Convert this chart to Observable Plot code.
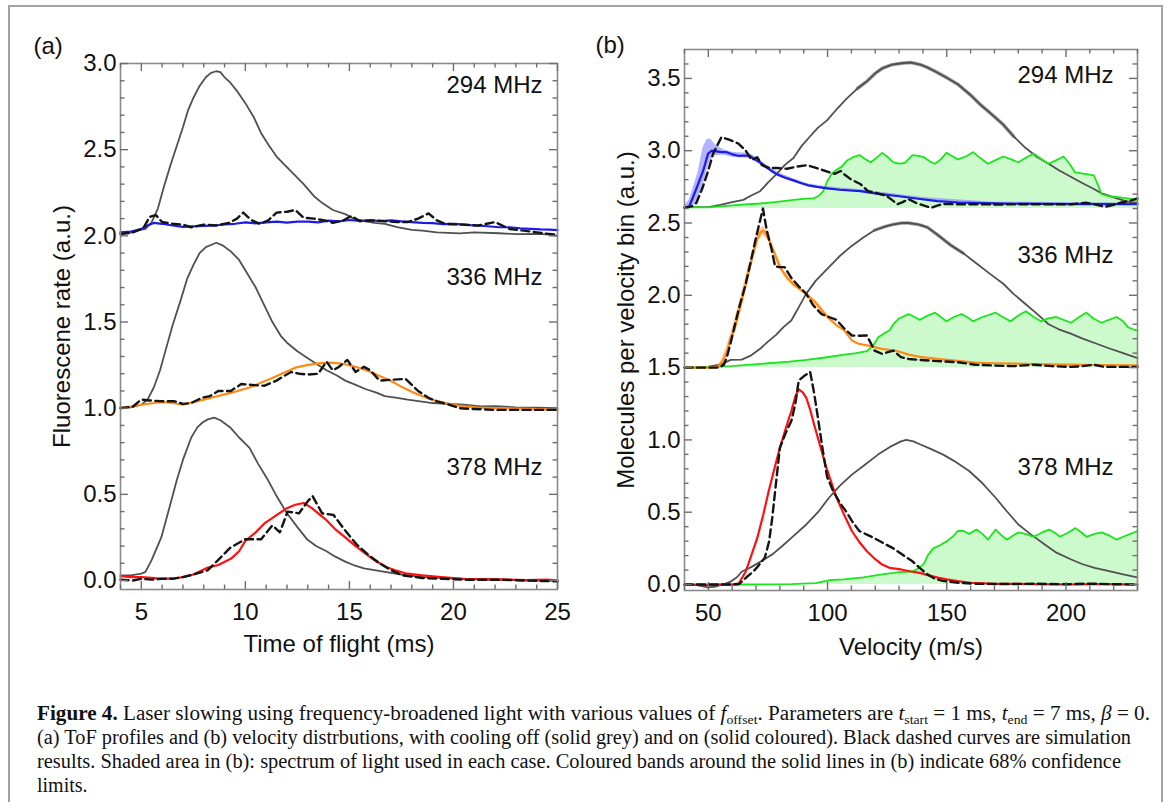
<!DOCTYPE html>
<html>
<head>
<meta charset="utf-8">
<script src="https://cdn.jsdelivr.net/npm/d3@7"></script>
<script src="https://cdn.jsdelivr.net/npm/@observablehq/plot@0.6"></script>
<style>
  html, body { margin: 0; padding: 0; background: #fff; }
  #fig { position: relative; width: 1171px; height: 802px; overflow: hidden; background: #fff; }
  #border { position: absolute; left: 8px; top: 5px; width: 1155px; height: 900px; border: 2px solid #a3a3a3; box-sizing: border-box; }
  .panel { position: absolute; top: 0; }
  #pa { left: 0; }
  #pb { left: 590px; }
  .cap { position: absolute; left: 37px; white-space: nowrap; font-family: "Liberation Serif", "Times New Roman", serif; font-size: 20px; color: #111; transform-origin: 0 50%; }
  .cap i { font-style: italic; }
  .cap sub { font-size: 13px; vertical-align: -4px; line-height: 0; }
</style>
</head>
<body>
<div id="fig">
  <div id="border"></div>
  <div id="pa" class="panel"></div>
  <div id="pb" class="panel"></div>
  <div class="cap" data-w="1113" style="top:702px"><b>Figure 4.</b> Laser slowing using frequency-broadened light with various values of <i>f</i><sub>offset</sub>. Parameters are <i>t</i><sub>start</sub>&nbsp;=&nbsp;1 ms, <i>t</i><sub>end</sub>&nbsp;=&nbsp;7 ms, <i>β</i>&nbsp;=&nbsp;0.</div>
  <div class="cap" data-w="1094" style="top:726px">(a) ToF profiles and (b) velocity distrbutions, with cooling off (solid grey) and on (solid coloured). Black dashed curves are simulation</div>
  <div class="cap" data-w="1084" style="top:750px">results. Shaded area in (b): spectrum of light used in each case. Coloured bands around the solid lines in (b) indicate 68% confidence</div>
  <div class="cap" style="top:774px">limits.</div>
</div>
<script>
// ---------------- Panel (a): ToF profiles ----------------
const aXMajor = [5, 10, 15, 20, 25];
const aXMinor = [4, 6, 7, 8, 9, 11, 12, 13, 14, 16, 17, 18, 19, 21, 22, 23, 24];
const aYMajor = [0, 0.5, 1, 1.5, 2, 2.5, 3];
const aYMinor = [0.1,0.2,0.3,0.4,0.6,0.7,0.8,0.9,1.1,1.2,1.3,1.4,1.6,1.7,1.8,1.9,2.1,2.2,2.3,2.4,2.6,2.7,2.8,2.9];
const aLabels = ["294 MHz", "336 MHz", "378 MHz"];

const tof294Off = [[4.0,2.02],[4.4,2.015],[4.8,2.03],[5.2,2.04],[5.5,2.08],[5.8,2.16],[6.1,2.29],[6.4,2.41],[6.7,2.52],[7.0,2.63],[7.25,2.73],[7.5,2.80],[7.8,2.87],[8.1,2.92],[8.35,2.946],[8.6,2.955],[8.8,2.95],[9.0,2.92],[9.27,2.89],[9.6,2.84],[10.0,2.77],[10.4,2.69],[10.74,2.60],[11.1,2.53],[11.5,2.46],[11.9,2.41],[12.4,2.35],[12.8,2.30],[13.3,2.23],[13.7,2.19],[14.2,2.15],[14.8,2.126],[15.2,2.10],[15.7,2.085],[16.2,2.075],[16.7,2.07],[17.3,2.05],[18.0,2.035],[18.5,2.03],[19.2,2.02],[20.3,2.014],[21.0,2.02],[22.2,2.015],[23.0,2.01],[24.0,2.012],[24.5,2.008],[25.0,2.0]];
const tof294On = [[4.0,2.02],[4.5,2.025],[5.0,2.04],[5.3,2.06],[5.6,2.075],[6.0,2.07],[6.5,2.06],[7.0,2.052],[7.5,2.055],[8.0,2.058],[8.5,2.06],[9.0,2.066],[9.5,2.07],[10.0,2.078],[10.5,2.072],[11.0,2.078],[11.5,2.082],[12.0,2.077],[12.5,2.083],[13.0,2.082],[13.5,2.078],[14.0,2.088],[14.5,2.084],[15.0,2.092],[15.5,2.087],[16.0,2.09],[16.5,2.086],[17.0,2.09],[17.5,2.084],[18.0,2.08],[18.5,2.075],[19.0,2.074],[19.5,2.068],[20.0,2.07],[20.4,2.066],[21.0,2.06],[21.5,2.057],[22.2,2.05],[22.7,2.05],[23.2,2.044],[23.7,2.04],[24.2,2.037],[24.6,2.036],[25.0,2.033]];
const tof294Sim = [[4.0,2.01],[4.6,2.02],[5.1,2.045],[5.4,2.11],[5.7,2.12],[6.0,2.08],[6.5,2.07],[7.0,2.065],[7.4,2.05],[8.0,2.065],[8.6,2.06],[9.2,2.075],[9.6,2.10],[9.9,2.135],[10.3,2.09],[10.7,2.07],[11.1,2.09],[11.5,2.135],[12.0,2.14],[12.4,2.15],[12.8,2.105],[13.3,2.10],[13.8,2.09],[14.2,2.075],[14.7,2.09],[15.1,2.115],[15.5,2.085],[16.0,2.09],[16.7,2.085],[17.3,2.08],[17.8,2.08],[18.3,2.10],[18.8,2.13],[19.2,2.09],[19.6,2.07],[20.4,2.065],[21.2,2.06],[22.0,2.08],[22.7,2.04],[23.4,2.03],[24.0,2.02],[25.0,2.005]];

const tof336Off = [[4.0,1.0],[4.5,1.005],[5.0,1.02],[5.3,1.05],[5.6,1.12],[5.9,1.22],[6.2,1.35],[6.5,1.48],[6.9,1.63],[7.2,1.75],[7.5,1.83],[7.8,1.90],[8.1,1.935],[8.4,1.95],[8.6,1.96],[8.9,1.945],[9.3,1.91],[9.7,1.86],[10.1,1.78],[10.5,1.70],[10.9,1.60],[11.3,1.50],[11.7,1.42],[12.0,1.38],[12.5,1.33],[13.0,1.29],[13.5,1.25],[13.9,1.22],[14.4,1.19],[14.8,1.16],[15.3,1.135],[15.8,1.11],[16.3,1.09],[16.7,1.07],[17.3,1.06],[17.8,1.05],[18.4,1.04],[19.0,1.03],[19.7,1.025],[20.5,1.02],[21.3,1.01],[22.0,1.012],[23.0,1.005],[24.0,1.003],[25.0,1.0]];
const tof336On = [[4.0,1.003],[4.5,1.01],[5.0,1.02],[5.6,1.03],[6.0,1.035],[6.5,1.03],[7.0,1.02],[7.5,1.035],[8.0,1.05],[8.5,1.065],[9.0,1.08],[9.5,1.095],[10.2,1.12],[10.8,1.15],[11.3,1.175],[11.85,1.206],[12.4,1.235],[12.95,1.25],[13.5,1.26],[14.05,1.264],[14.4,1.262],[14.8,1.255],[15.3,1.24],[15.9,1.216],[16.4,1.19],[17.0,1.158],[17.5,1.125],[18.1,1.09],[18.7,1.06],[19.4,1.036],[20.2,1.015],[21.2,1.003],[22.0,1.0],[23.0,0.998],[24.0,0.995],[25.0,0.99]];
const tof336Sim = [[4.0,1.0],[4.6,1.01],[5.0,1.05],[5.4,1.045],[6.0,1.04],[6.6,1.04],[7.0,1.025],[7.4,1.03],[7.9,1.06],[8.3,1.07],[8.7,1.10],[9.3,1.10],[9.8,1.14],[10.3,1.135],[10.9,1.13],[11.5,1.16],[11.9,1.19],[12.2,1.21],[12.6,1.20],[13.0,1.195],[13.5,1.20],[13.9,1.27],[14.2,1.22],[14.5,1.24],[14.9,1.28],[15.3,1.21],[15.7,1.24],[16.0,1.22],[16.45,1.16],[17.0,1.165],[17.7,1.17],[18.3,1.10],[18.8,1.06],[19.2,1.04],[19.8,1.02],[20.3,1.0],[21.0,0.995],[22.0,0.99],[23.0,0.99],[24.0,0.99],[25.0,0.99]];

const tof378Off = [[4.0,0.03],[4.5,0.03],[5.0,0.04],[5.2,0.05],[5.5,0.12],[5.96,0.25],[6.3,0.40],[6.7,0.58],[7.0,0.70],[7.4,0.83],[7.7,0.89],[7.94,0.917],[8.2,0.935],[8.5,0.945],[8.8,0.93],[9.26,0.89],[9.7,0.83],[10.2,0.77],[10.6,0.68],[11.1,0.58],[11.5,0.49],[12.0,0.39],[12.5,0.31],[12.96,0.24],[13.4,0.20],[13.9,0.17],[14.3,0.14],[14.8,0.11],[15.2,0.09],[15.7,0.07],[16.2,0.06],[16.7,0.05],[17.5,0.035],[18.5,0.02],[19.5,0.015],[20.4,0.01],[21.5,0.005],[22.5,0.006],[23.5,0.0],[25.0,0.0]];
const tof378On = [[4.0,0.025],[4.5,0.02],[5.0,0.02],[5.5,0.015],[6.0,0.01],[6.5,0.012],[7.0,0.02],[7.5,0.035],[8.2,0.075],[8.7,0.09],[9.3,0.126],[9.7,0.17],[10.0,0.23],[10.5,0.28],[10.9,0.33],[11.5,0.38],[12.0,0.42],[12.4,0.44],[12.8,0.45],[13.2,0.42],[13.5,0.39],[13.9,0.35],[14.3,0.30],[14.8,0.25],[15.3,0.20],[15.9,0.145],[16.3,0.11],[16.8,0.077],[17.2,0.06],[17.7,0.042],[18.5,0.03],[19.4,0.02],[20.5,0.01],[21.5,0.008],[22.5,0.005],[23.5,0.003],[24.5,0.005],[25.0,0.0]];
const tof378Sim = [[4.0,0.005],[4.6,0.0],[5.0,0.01],[5.5,0.005],[6.0,0.01],[6.5,0.01],[7.0,0.02],[7.5,0.035],[8.2,0.06],[8.7,0.12],[9.27,0.19],[10.0,0.24],[10.76,0.24],[11.3,0.32],[11.66,0.28],[12.03,0.40],[12.58,0.39],[13.0,0.46],[13.23,0.49],[13.69,0.39],[14.24,0.38],[14.8,0.29],[15.34,0.21],[15.9,0.15],[16.45,0.10],[17.0,0.06],[17.55,0.03],[18.5,0.015],[19.5,0.01],[20.5,0.005],[22.0,0.005],[23.5,0.0],[25.0,-0.005]];

// ---------------- Panel (b): velocity distributions ----------------
const bXMajor = [50, 100, 150, 200];
const bXMinor = [40, 60, 70, 80, 90, 110, 120, 130, 140, 160, 170, 180, 190, 210, 220, 230];
const bYMajor = [0, 0.5, 1, 1.5, 2, 2.5, 3, 3.5];
const bYMinor = [0.1,0.2,0.3,0.4,0.6,0.7,0.8,0.9,1.1,1.2,1.3,1.4,1.6,1.7,1.8,1.9,2.1,2.2,2.3,2.4,2.6,2.7,2.8,2.9,3.1,3.2,3.3,3.4,3.6];
const specBase = [2.6, 1.5, 0];

const vel294Off = [[40,2.61],[45,2.61],[50,2.61],[55,2.625],[60,2.645],[64.7,2.66],[68,2.69],[71.7,2.72],[75,2.78],[78.7,2.84],[82,2.9],[85.7,2.95],[89,3.03],[92.7,3.10],[96,3.16],[99.8,3.21],[104,3.29],[108,3.36],[112.5,3.43],[116.5,3.48],[120,3.535],[123,3.57],[127,3.595],[131,3.605],[135,3.61],[139,3.595],[142,3.575],[145,3.55],[150,3.505],[154.6,3.46],[160,3.385],[164,3.32],[169,3.25],[173.7,3.18],[178,3.10],[183,3.02],[188,2.955],[192.7,2.91],[197,2.865],[202,2.82],[207,2.775],[211.7,2.735],[215,2.705],[218,2.69],[221,2.672],[224.4,2.655],[227,2.645],[230,2.64]];
const vel294On = [[40,2.606],[42,2.615],[43.6,2.68],[45.5,2.76],[47.8,2.86],[49.9,2.98],[51.5,3.0],[53.5,2.995],[55.5,2.99],[57.7,2.99],[60,2.975],[62.5,2.965],[64.7,2.967],[67.3,2.965],[69.5,2.94],[71.7,2.92],[74,2.89],[76.5,2.86],[79,2.835],[82,2.815],[85.7,2.795],[89,2.775],[92,2.76],[95.5,2.75],[100,2.74],[105,2.73],[113.8,2.72],[122,2.70],[130,2.685],[138,2.668],[146,2.652],[155,2.642],[165,2.637],[175,2.634],[190,2.632],[202,2.63],[215,2.63],[230,2.63]];
const vel294Band = [[40,2.60,2.62],[42,2.60,2.66],[43.6,2.62,2.74],[45.5,2.66,2.84],[47.8,2.76,3.02],[49.5,2.87,3.08],[51,2.94,3.08],[53,2.965,3.04],[56,2.97,3.01],[60,2.955,2.99],[64,2.95,2.985],[67,2.948,2.985],[70,2.92,2.955],[74,2.875,2.905],[80,2.815,2.845],[86,2.78,2.805],[92,2.75,2.77],[100,2.73,2.75],[115,2.71,2.728],[140,2.658,2.676],[170,2.626,2.644],[230,2.622,2.638]];
const vel294Sim = [[40,2.606],[43,2.615],[45,2.64],[47.5,2.74],[49.9,2.86],[52,2.98],[55.5,3.094],[59,3.075],[62.5,3.05],[65.7,3.0],[68.2,2.936],[70.5,2.955],[72.5,2.9],[75.9,2.88],[79,2.88],[83,2.875],[87,2.89],[91.3,2.90],[94.5,2.885],[98.2,2.865],[101,2.85],[103,2.84],[105.5,2.86],[107.5,2.83],[110,2.80],[113.7,2.77],[117,2.72],[121,2.705],[124.5,2.69],[127,2.66],[129.2,2.63],[131.5,2.645],[134,2.665],[137,2.64],[140.5,2.62],[143.5,2.606],[146,2.62],[148.3,2.632],[154.6,2.63],[162,2.63],[170.5,2.628],[185,2.63],[202,2.63],[208.3,2.64],[212,2.63],[216.3,2.612],[220,2.625],[222.8,2.64],[226,2.65],[230,2.67]];
const vel294Spec = [[40,2.606],[45,2.61],[50,2.608],[55,2.615],[59,2.62],[65,2.628],[71.7,2.635],[78,2.645],[85.7,2.66],[91,2.668],[94.1,2.67],[96.5,2.69],[98.2,2.72],[100.2,2.80],[102,2.845],[104,2.87],[106,2.89],[108,2.93],[110.7,2.955],[113.4,2.97],[116,2.94],[118.1,2.92],[120.5,2.95],[122.9,2.985],[125,2.96],[127.6,2.92],[130,2.91],[132.4,2.915],[135.6,2.97],[138,2.965],[140.4,2.955],[143,2.925],[145.1,2.91],[147.5,2.94],[149.9,2.985],[152,2.965],[154.6,2.94],[158,2.96],[161,2.99],[164,2.95],[167.3,2.91],[170.5,2.935],[173.7,2.96],[177,2.94],[180,2.92],[183,2.95],[186.4,2.98],[189.5,2.945],[192.7,2.91],[196,2.935],[199,2.96],[201.5,2.91],[203.8,2.85],[208,2.84],[211.7,2.83],[213.5,2.76],[214.9,2.70],[218,2.685],[221.3,2.68],[225,2.672],[228,2.665],[230,2.66]];

const vel336Off = [[40,1.5],[45,1.5],[50,1.507],[55,1.52],[59.4,1.553],[64,1.555],[68,1.585],[72,1.634],[75,1.68],[78.4,1.726],[81.5,1.78],[84.8,1.826],[88,1.92],[91,2.01],[95,2.10],[100.6,2.195],[105,2.27],[110,2.34],[115,2.40],[119.7,2.45],[124,2.475],[127.6,2.49],[131,2.50],[134,2.50],[138,2.49],[141.9,2.47],[146,2.42],[151.4,2.35],[157,2.29],[162.5,2.22],[168,2.15],[173.7,2.08],[178,2.01],[183,1.94],[188,1.87],[192.7,1.80],[197,1.765],[202,1.735],[207,1.70],[212,1.67],[218,1.634],[224,1.60],[230,1.565]];
const vel336On = [[40,1.5],[45,1.5],[50,1.5],[54,1.505],[56.2,1.55],[58,1.62],[59.4,1.71],[60.9,1.757],[62.5,1.86],[64.1,1.965],[66.5,2.13],[68.9,2.29],[70.5,2.39],[72,2.44],[73.5,2.445],[75,2.40],[77.5,2.30],[80,2.195],[83,2.12],[86,2.07],[91.1,2.01],[95,1.95],[100.6,1.84],[104,1.79],[107,1.757],[110.2,1.688],[113,1.665],[116.5,1.654],[122.9,1.63],[129.2,1.615],[134,1.59],[138.7,1.574],[146,1.56],[154.6,1.546],[162,1.535],[170.5,1.53],[186.4,1.525],[200,1.52],[215,1.518],[230,1.515]];
const vel336Band = [[54,1.5,1.51],[56,1.53,1.57],[58,1.59,1.66],[60,1.69,1.77],[63,1.88,1.95],[66,2.08,2.15],[69,2.27,2.33],[71,2.37,2.44],[73,2.415,2.48],[75,2.38,2.43],[78,2.27,2.31],[82,2.13,2.16],[90,2.01,2.035],[100,1.84,1.86]];
const vel336Sim = [[40,1.5],[50,1.5],[54.6,1.5],[56.5,1.52],[57.7,1.568],[59.5,1.68],[60.9,1.78],[63,1.92],[65.7,2.08],[68,2.25],[70,2.40],[72.9,2.60],[74.5,2.45],[76.5,2.32],[78,2.20],[80,2.195],[82,2.195],[84.8,2.12],[88,2.06],[91.1,2.01],[94,1.93],[97.5,1.87],[100.6,1.85],[103.8,1.83],[107,1.77],[110.2,1.722],[113,1.72],[116.5,1.722],[119.7,1.618],[122.9,1.595],[125,1.605],[127.6,1.618],[130.8,1.572],[134,1.56],[138.7,1.553],[146,1.545],[154.6,1.537],[162,1.52],[170.5,1.514],[178,1.51],[186.4,1.52],[194,1.51],[202.2,1.505],[207,1.51],[211.7,1.52],[216,1.505],[222,1.505],[230,1.505]];
const vel336Spec = [[40,1.5],[50,1.505],[59.4,1.51],[68,1.52],[75.3,1.53],[83,1.54],[91.1,1.553],[99,1.57],[107,1.59],[112,1.60],[116.5,1.614],[119,1.65],[121.3,1.71],[124,1.74],[126,1.757],[127.6,1.80],[130,1.84],[134,1.87],[136.5,1.85],[138.7,1.83],[142,1.86],[145.1,1.88],[147.5,1.85],[149.9,1.82],[153,1.85],[156.2,1.87],[158.5,1.85],[161,1.82],[165,1.85],[170.5,1.88],[173.5,1.85],[176.8,1.82],[180,1.86],[183.2,1.89],[186.5,1.85],[189.5,1.82],[192.5,1.84],[195.9,1.85],[199,1.83],[202.2,1.81],[205.5,1.85],[208.5,1.88],[211.5,1.84],[214.9,1.81],[218,1.83],[221.3,1.85],[224,1.82],[226,1.78],[228,1.765],[230,1.755]];

const vel378Off = [[40,0.0],[45,-0.005],[50,-0.02],[53,-0.015],[56,0.0],[59.4,0.02],[62,0.05],[64.1,0.09],[68,0.12],[72.1,0.16],[77,0.21],[81.6,0.275],[86,0.34],[91.1,0.415],[96,0.50],[100.6,0.60],[105,0.68],[110.2,0.76],[115,0.82],[121.3,0.90],[126,0.95],[130.8,0.99],[133,1.0],[136,0.99],[138.7,0.97],[143,0.94],[148.3,0.90],[153,0.855],[159.4,0.785],[165,0.70],[170.5,0.60],[175,0.51],[180,0.415],[185,0.35],[191.1,0.277],[196,0.22],[202.2,0.173],[207,0.14],[212,0.115],[218.1,0.092],[224,0.07],[230,0.05]];
const vel378On = [[40,0.0],[50,-0.005],[55,0.0],[60,0.0],[62.5,0.0],[65.7,0.09],[68,0.20],[70.5,0.32],[73,0.48],[75.3,0.645],[78,0.82],[80,0.945],[82.5,1.08],[84.8,1.20],[86.5,1.30],[87.9,1.35],[89.5,1.33],[91.1,1.29],[92.7,1.21],[94.3,1.11],[96.7,0.97],[99.1,0.83],[101.5,0.71],[103.8,0.60],[107,0.48],[110.2,0.37],[113.5,0.29],[116.5,0.23],[120,0.175],[122.9,0.138],[126,0.115],[130.8,0.104],[135,0.09],[138.7,0.08],[142,0.065],[146.7,0.046],[150,0.035],[154.6,0.023],[160,0.012],[170.5,0.005],[185,0.003],[200,0.0],[215,0.002],[230,0.0]];
const vel378Sim = [[40,0.0],[50,0.0],[60,0.0],[63,0.005],[66,0.05],[68.9,0.09],[71,0.13],[73.7,0.185],[75.5,0.30],[76.8,0.46],[78.5,0.72],[80,0.945],[82.5,1.05],[84.8,1.13],[86.5,1.25],[87.9,1.41],[90,1.44],[92.7,1.47],[94.3,1.33],[95.9,1.16],[97.8,0.95],[99.8,0.745],[102.5,0.64],[105.4,0.56],[108,0.50],[110.2,0.44],[113.3,0.37],[116.5,0.345],[119.7,0.32],[123.5,0.285],[127.6,0.25],[131.5,0.205],[135.6,0.16],[139,0.11],[141.9,0.07],[145,0.04],[148.3,0.025],[155,0.012],[162.5,0.005],[175,0.003],[187,0.005],[200,0.002],[210,0.006],[220,0.002],[230,0.0]];
const vel378Spec = [[40,0.0],[55,0.0],[70,0.0],[85,0.003],[95,0.01],[101,0.03],[107,0.035],[115,0.05],[122.9,0.07],[130,0.085],[135.6,0.09],[138,0.11],[140.3,0.14],[142,0.20],[144.3,0.25],[147,0.27],[150.1,0.30],[152.5,0.33],[154.6,0.37],[157,0.37],[159.4,0.35],[162.5,0.38],[165,0.35],[167.3,0.31],[170.5,0.38],[173,0.34],[175.3,0.31],[178,0.34],[180,0.36],[183,0.35],[186.4,0.33],[190,0.36],[193,0.38],[196,0.35],[197.5,0.33],[201,0.36],[204,0.39],[206.5,0.36],[208.6,0.33],[212,0.35],[215,0.36],[218,0.34],[221.3,0.31],[224,0.33],[227,0.35],[230,0.37]];

// ---------------- styling ----------------
const GREY = "#505050", BLUE = "#1c1ce8", ORANGE = "#ff8a14", RED = "#ff1010";
const GREEN = "#1ee41e", GREENFILL = "#cdfacd", DASH = "#141414", FRAME = "#8a8a8a", TICK = "#6e6e6e";
const X = d => d[0], Y = d => d[1];

// inward ticks on all four sides (pixel insets leave only a short stub)
function axes(xMaj, xMin, yMaj, yMin, fw, fh) {
  const t = {stroke: TICK, strokeWidth: 1.4};
  const MAJ = 8, MIN = 4.5;
  return [
    Plot.frame({stroke: FRAME, strokeWidth: 1.6}),
    Plot.tickX(xMaj, {...t, x: d => d, insetTop: fh - MAJ}),
    Plot.tickX(xMin, {...t, x: d => d, insetTop: fh - MIN}),
    Plot.tickX(xMaj, {...t, x: d => d, insetBottom: fh - MAJ}),
    Plot.tickX(xMin, {...t, x: d => d, insetBottom: fh - MIN}),
    Plot.tickY(yMaj, {...t, y: d => d, insetRight: fw - MAJ}),
    Plot.tickY(yMin, {...t, y: d => d, insetRight: fw - MIN}),
    Plot.tickY(yMaj, {...t, y: d => d, insetLeft: fw - MAJ}),
    Plot.tickY(yMin, {...t, y: d => d, insetLeft: fw - MIN}),
    Plot.axisX(xMaj, {anchor: "bottom", tickSize: 0, tickPadding: 13, fill: "#111", label: null}),
    Plot.axisY(yMaj, {anchor: "left", tickSize: 0, tickPadding: 4, fill: "#111", label: null, tickFormat: d3.format(".1f")})
  ];
}
const common = {
  width: 590, height: 680,
  style: {fontFamily: "'Liberation Sans', Arial, sans-serif", fontSize: "24px", color: "#111", background: "transparent", overflow: "visible"}
};
const lineW = {grey: 1.8, col: 2.2, dash: 2.4};
const dashOpt = {stroke: DASH, strokeWidth: lineW.dash, strokeDasharray: "8,4.5"};

const plotA = Plot.plot({
  ...common,
  marginLeft: 120, marginRight: 33, marginTop: 63, marginBottom: 91,
  x: {domain: [4, 25]},
  y: {domain: [-0.052, 3.0]},
  marks: [
    Plot.line(tof294Off, {x: X, y: Y, stroke: GREY, strokeWidth: lineW.grey}),
    Plot.line(tof336Off, {x: X, y: Y, stroke: GREY, strokeWidth: lineW.grey}),
    Plot.line(tof378Off, {x: X, y: Y, stroke: GREY, strokeWidth: lineW.grey}),
    Plot.line(tof294On, {x: X, y: Y, stroke: BLUE, strokeWidth: lineW.col}),
    Plot.line(tof336On, {x: X, y: Y, stroke: ORANGE, strokeWidth: lineW.col}),
    Plot.line(tof378On, {x: X, y: Y, stroke: RED, strokeWidth: lineW.col}),
    Plot.line(tof294Sim, {x: X, y: Y, ...dashOpt}),
    Plot.line(tof336Sim, {x: X, y: Y, ...dashOpt}),
    Plot.line(tof378Sim, {x: X, y: Y, ...dashOpt}),
    ...axes(aXMajor, aXMinor, aYMajor, aYMinor, 590 - 120 - 33, 680 - 63 - 91),
    Plot.text([aLabels[0]], {text: d => d, frameAnchor: "top-right", textAnchor: "end", lineAnchor: "middle", dx: -15, dy: 22, fill: "#111"}),
    Plot.text([aLabels[1]], {text: d => d, frameAnchor: "top-right", textAnchor: "end", lineAnchor: "middle", dx: -15, dy: 214, fill: "#111"}),
    Plot.text([aLabels[2]], {text: d => d, frameAnchor: "top-right", textAnchor: "end", lineAnchor: "middle", dx: -15, dy: 404, fill: "#111"}),
    Plot.text(["(a)"], {text: d => d, frameAnchor: "top-left", textAnchor: "start", lineAnchor: "middle", dx: -87, dy: -17, fill: "#111"}),
    Plot.text(["Fluorescene rate (a.u.)"], {text: d => d, frameAnchor: "left", rotate: -90, textAnchor: "middle", lineAnchor: "middle", dx: -58, fill: "#111"}),
    Plot.text(["Time of flight (ms)"], {text: d => d, frameAnchor: "bottom", textAnchor: "middle", lineAnchor: "top", dy: 45, fill: "#111"})
  ]
});
document.getElementById("pa").appendChild(plotA);

const plotB = Plot.plot({
  ...common,
  width: 581,
  marginLeft: 94, marginRight: 34, marginTop: 49, marginBottom: 90,
  x: {domain: [40, 230]},
  y: {domain: [-0.0415, 3.70]},
  marks: [
    Plot.areaY(vel294Spec, {x: X, y1: specBase[0], y2: Y, fill: GREENFILL}),
    Plot.areaY(vel336Spec, {x: X, y1: specBase[1], y2: Y, fill: GREENFILL}),
    Plot.areaY(vel378Spec, {x: X, y1: specBase[2], y2: Y, fill: GREENFILL}),
    Plot.areaY(vel294Band, {x: X, y1: d => d[1], y2: d => d[2], fill: "#8080ff", fillOpacity: 0.6}),
    Plot.areaY(vel336Band, {x: X, y1: d => d[1], y2: d => d[2], fill: "#ffb870", fillOpacity: 0.75}),
    Plot.line(vel294Off.filter(d => d[0] >= 112 && d[0] <= 180), {x: X, y: Y, stroke: "#a0a0a0", strokeWidth: 3.6}),
    Plot.line(vel336Off.filter(d => d[0] >= 118 && d[0] <= 158), {x: X, y: Y, stroke: "#a0a0a0", strokeWidth: 3.4}),
    Plot.line(vel294Off, {x: X, y: Y, stroke: GREY, strokeWidth: lineW.grey}),
    Plot.line(vel336Off, {x: X, y: Y, stroke: GREY, strokeWidth: lineW.grey}),
    Plot.line(vel378Off, {x: X, y: Y, stroke: GREY, strokeWidth: lineW.grey}),
    Plot.line(vel294Spec, {x: X, y: Y, stroke: GREEN, strokeWidth: 1.8}),
    Plot.line(vel336Spec, {x: X, y: Y, stroke: GREEN, strokeWidth: 1.8}),
    Plot.line(vel378Spec, {x: X, y: Y, stroke: GREEN, strokeWidth: 1.8}),
    Plot.line(vel294On, {x: X, y: Y, stroke: BLUE, strokeWidth: lineW.col}),
    Plot.line(vel336On, {x: X, y: Y, stroke: ORANGE, strokeWidth: lineW.col}),
    Plot.line(vel378On, {x: X, y: Y, stroke: RED, strokeWidth: lineW.col}),
    Plot.line(vel294Sim, {x: X, y: Y, ...dashOpt}),
    Plot.line(vel336Sim, {x: X, y: Y, ...dashOpt}),
    Plot.line(vel378Sim, {x: X, y: Y, ...dashOpt}),
    ...axes(bXMajor, bXMinor, bYMajor, bYMinor, 581 - 94 - 34, 680 - 49 - 90),
    Plot.text([aLabels[0]], {text: d => d, frameAnchor: "top-right", textAnchor: "end", lineAnchor: "middle", dx: -24, dy: 26, fill: "#111"}),
    Plot.text([aLabels[1]], {text: d => d, frameAnchor: "top-right", textAnchor: "end", lineAnchor: "middle", dx: -24, dy: 206, fill: "#111"}),
    Plot.text([aLabels[2]], {text: d => d, frameAnchor: "top-right", textAnchor: "end", lineAnchor: "middle", dx: -24, dy: 418, fill: "#111"}),
    Plot.text(["(b)"], {text: d => d, frameAnchor: "top-left", textAnchor: "start", lineAnchor: "middle", dx: -89, dy: -4, fill: "#111"}),
    Plot.text(["Molecules per velocity bin (a.u.)"], {text: d => d, frameAnchor: "left", rotate: -90, textAnchor: "middle", lineAnchor: "middle", dx: -58, fill: "#111"}),
    Plot.text(["Velocity (m/s)"], {text: d => d, frameAnchor: "bottom", textAnchor: "middle", lineAnchor: "top", dy: 47, fill: "#111"})
  ]
});
document.getElementById("pb").appendChild(plotB);

// stretch caption lines to the reference line lengths
document.querySelectorAll(".cap[data-w]").forEach(el => {
  const w = el.getBoundingClientRect().width;
  if (w > 0) el.style.transform = `scaleX(${(+el.dataset.w / w).toFixed(4)})`;
});
</script>
</body>
</html>
